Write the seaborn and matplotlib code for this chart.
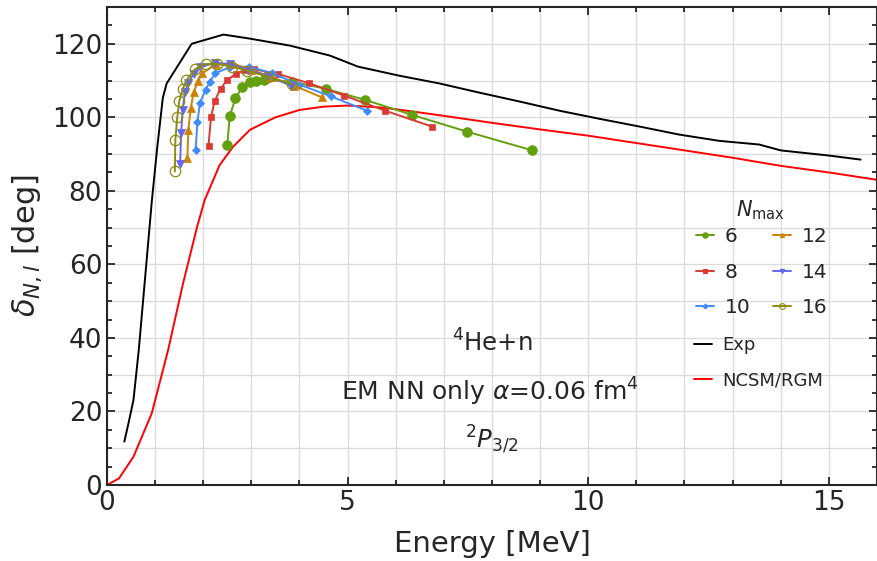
import numpy as np
import pandas as pd
import matplotlib
matplotlib.use("Agg")
import matplotlib.pyplot as plt
from matplotlib.ticker import MultipleLocator
from matplotlib.lines import Line2D
import seaborn as sns

# ---------------- data ----------------
exp_E = [0.36, 0.45, 0.55, 0.66, 0.93, 1.04, 1.16, 1.24, 1.76, 2.42, 2.97, 3.80, 4.63,
         5.21, 6.08, 6.91, 7.74, 8.57, 9.40, 10.23, 11.06, 11.89, 12.72, 13.55, 14.0, 15.0, 15.66]
exp_d = [11.8, 17.0, 23.1, 36.7, 77.0, 91.3, 105.3, 109.2, 120.0, 122.5, 121.4, 119.5, 116.8,
         113.8, 111.3, 109.2, 106.7, 104.3, 101.8, 99.6, 97.5, 95.3, 93.6, 92.6, 91.0, 89.6, 88.5]

rgm_E = [0.0, 0.25, 0.55, 0.93, 1.27, 1.58, 1.87, 2.03, 2.34, 2.62, 2.97, 3.5, 4.0, 4.5,
         5.0, 5.66, 6.0, 7.0, 8.0, 9.0, 10.0, 11.0, 12.0, 13.0, 14.0, 15.0, 16.0]
rgm_d = [0.0, 1.8, 7.7, 19.5, 36.7, 54.8, 70.1, 77.5, 87.0, 92.0, 96.6, 100.0, 102.0, 102.9,
         103.2, 102.7, 102.2, 100.4, 98.5, 96.7, 95.0, 93.0, 91.0, 89.0, 86.8, 85.0, 83.0]

nmax_labels = ["6", "8", "10", "12", "14", "16"]
n6_E = [2.50, 2.55, 2.67, 2.81, 2.98, 3.10, 3.26, 3.84, 4.56, 5.37, 6.33, 7.48, 8.84]
n6_d = [92.6, 100.3, 105.2, 108.2, 109.6, 110.0, 110.2, 109.7, 107.7, 104.7, 100.7, 96.1, 91.0]
n8_E = [2.11, 2.16, 2.24, 2.36, 2.50, 2.68, 2.85, 3.05, 3.55, 4.19, 4.93, 5.78, 6.75]
n8_d = [92.3, 100.0, 104.5, 107.8, 110.2, 111.8, 112.8, 113.1, 111.8, 109.3, 105.9, 101.8, 97.5]
n10_E = [1.84, 1.88, 1.93, 2.05, 2.14, 2.25, 2.55, 2.95, 3.42, 4.00, 4.65, 5.40]
n10_d = [91.2, 98.7, 103.9, 107.5, 109.7, 112.0, 113.6, 113.8, 112.0, 108.9, 105.7, 101.8]
n12_E = [1.67, 1.69, 1.74, 1.80, 1.89, 1.98, 2.27, 2.60, 3.00, 3.40, 3.89, 4.47]
n12_d = [89.0, 96.6, 102.4, 106.8, 109.8, 112.0, 114.5, 114.6, 113.0, 111.0, 108.6, 105.4]
n14_E = [1.52, 1.54, 1.57, 1.62, 1.69, 1.80, 1.93, 2.24, 2.55, 2.93, 3.35, 3.82]
n14_d = [87.3, 95.7, 102.0, 106.8, 109.4, 111.8, 113.6, 114.8, 114.5, 112.9, 111.2, 108.6]
n16_E = [1.41, 1.42, 1.46, 1.50, 1.57, 1.65, 1.83, 2.05, 2.29, 2.60, 2.91, 3.35, 3.85]
n16_d = [85.3, 93.8, 100.0, 104.3, 107.6, 110.1, 113.1, 114.5, 114.5, 113.8, 112.7, 111.0, 109.0]

series_E = [n6_E, n8_E, n10_E, n12_E, n14_E, n16_E]
series_d = [n6_d, n8_d, n10_d, n12_d, n14_d, n16_d]

# ---------------- style ----------------
colors = ["#63a00e", "#d93a32", "#3f8cff", "#cc8208", "#6565ee", "#8c8c10"]
markers = ["o", "s", "D", "^", "v", "o"]
msizes = [7, 5, 4.5, 5.5, 5.5, 7.5]
filled = [True, True, True, True, True, False]

sns.set_style("ticks")
plt.rcParams["font.family"] = ["DejaVu Sans"]
plt.rcParams["mathtext.fontset"] = "dejavusans"

fig = plt.figure(figsize=(8.78, 5.61), dpi=100)
ax = fig.add_axes([107 / 878, (561 - 485) / 561, 770 / 878, 478 / 561])

# grid
for yv in range(10, 130, 10):
    ax.axhline(yv, color="#dcdcdc", lw=1.0, zorder=0)
ax.xaxis.set_major_locator(MultipleLocator(5))
ax.xaxis.set_minor_locator(MultipleLocator(1))
ax.yaxis.set_major_locator(MultipleLocator(20))
ax.yaxis.set_minor_locator(MultipleLocator(5))
ax.grid(True, axis="x", which="both", color="#dcdcdc", lw=1.0, zorder=0)
ax.set_axisbelow(True)

sns.lineplot(x=exp_E, y=exp_d, color="black", lw=1.4, ax=ax, sort=False, label="Exp")
sns.lineplot(x=rgm_E, y=rgm_d, color="#ff0000", lw=1.4, ax=ax, sort=False, label="NCSM/RGM")

handles = []
for lab, E, d, c, m, ms, f in zip(nmax_labels, series_E, series_d, colors, markers, msizes, filled):
    df = pd.DataFrame({"E": E, "d": d})
    sns.lineplot(data=df, x="E", y="d", color=c, lw=1.4, marker=m, markersize=ms,
                 markerfacecolor=(c if f else "none"), markeredgecolor=c,
                 markeredgewidth=(0.5 if f else 0.9), ax=ax, sort=False, legend=False)
    handles.append(Line2D([], [], color=c, lw=1.4, marker=m, markersize=ms * 0.55,
                          markerfacecolor=(c if f else "none"), markeredgecolor=c,
                          markeredgewidth=0.8))

ax.set_xlim(0, 16)
ax.set_ylim(0, 130)
ax.tick_params(which="both", direction="in", top=True, right=True, width=1.3)
ax.tick_params(which="major", length=6, labelsize=19)
ax.tick_params(which="minor", length=3.5)
for s in ax.spines.values():
    s.set_linewidth(1.5)

ax.set_xlabel("Energy [MeV]", fontsize=21, labelpad=10)
ax.set_ylabel(r"$\delta_{N,l}$ [deg]", fontsize=22, labelpad=6)

# annotations
ax.text(8.0, 38.6, r"$^4$He+n", ha="center", va="center", fontsize=17.5)
ax.text(7.95, 25.3, r"EM NN only $\alpha$=0.06 fm$^4$", ha="center", va="center", fontsize=18)
ax.text(8.0, 12.2, r"$^2P_{3/2}$", ha="center", va="center", fontsize=17.5)

# legends
ax.text(13.57, 74.7, r"$N_{\rm max}$", ha="center", va="center", fontsize=15)
ex_h, ex_l = ax.get_legend_handles_labels()
leg1 = ax.legend(handles, nmax_labels, ncol=2, frameon=False,
                 fontsize=14.5, handlelength=0.9, handletextpad=0.55, columnspacing=1.1,
                 labelspacing=0.82, loc="upper left", bbox_to_anchor=(0.741, 0.577))
ax.add_artist(leg1)
ax.legend(ex_h[:2], ex_l[:2], frameon=False, fontsize=13, handlelength=1.0,
          handletextpad=0.55, labelspacing=0.95, loc="upper left",
          bbox_to_anchor=(0.741, 0.345))

fig.savefig("out.png", dpi=100)
